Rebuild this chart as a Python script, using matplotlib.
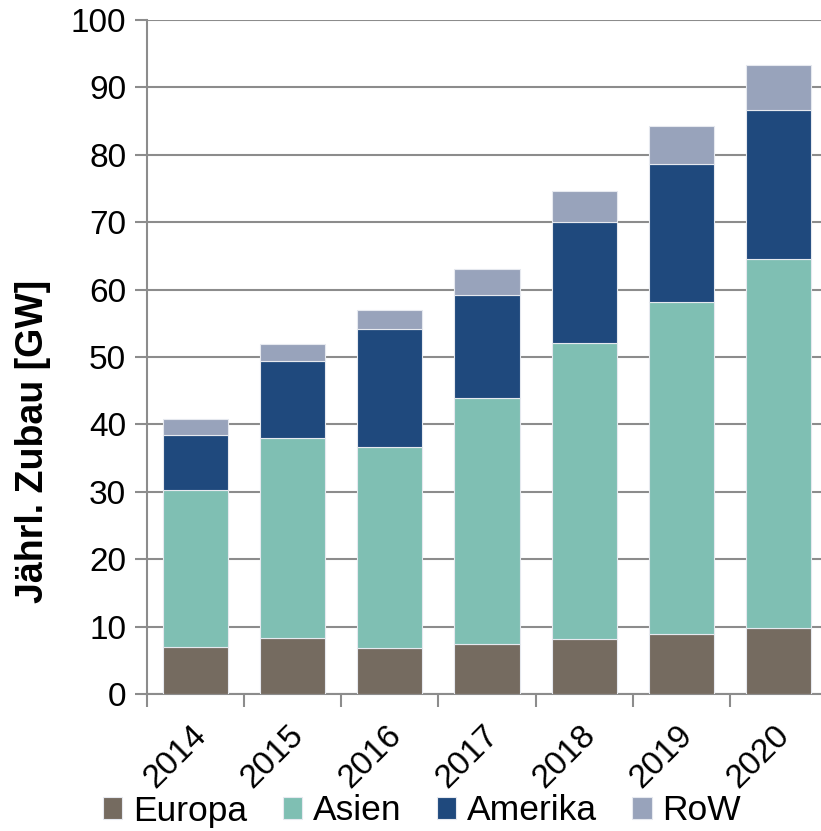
import matplotlib.pyplot as plt
import matplotlib.transforms as mtransforms
import numpy as np

plt.rcParams['font.family'] = ['Liberation Sans', 'DejaVu Sans']

# Daten
jahre = ['2014', '2015', '2016', '2017', '2018', '2019', '2020']
europa = [6.9, 8.3, 6.8, 7.4, 8.1, 8.9, 9.8]
asien = [23.3, 29.7, 29.9, 36.5, 44.0, 49.3, 54.7]
amerika = [8.3, 11.4, 17.4, 15.3, 18.0, 20.4, 22.1]
row = [2.3, 2.5, 2.9, 3.8, 4.6, 5.7, 6.7]

serien = ['Europa', 'Asien', 'Amerika', 'RoW']
farben = ['#756b60', '#7fbfb3', '#1f497d', '#98a3bb']
werte = [europa, asien, amerika, row]

fig = plt.figure(figsize=(8.21, 8.31), dpi=100)
ax = fig.add_axes([147 / 821, 1 - 694 / 831, 680 / 821, 674 / 831])

x = np.arange(len(jahre))
unten = np.zeros(len(jahre))
for name, farbe, w in zip(serien, farben, werte):
    ax.bar(x, w, width=0.67, bottom=unten, color=farbe, label=name,
           edgecolor='#e6e9ef', linewidth=0.8, zorder=3)
    unten += np.array(w)

# Achsen
ax.set_xlim(-0.5, len(jahre) - 0.5)
ax.set_ylim(0, 100)
ax.set_yticks(np.arange(0, 101, 10))
ax.tick_params(axis='y', labelsize=24, length=9, width=1.5, color='#8c8c8c', pad=6)

# Tickstriche zwischen den Kategorien, Beschriftung in der Mitte
ax.set_xticks(np.arange(-0.5, len(jahre), 1.0))
ax.set_xticklabels([])
ax.tick_params(axis='x', which='major', length=9, width=1.5, color='#8c8c8c')
ax.set_xticks(x, minor=True)
ax.set_xticklabels(jahre, minor=True, rotation=45, ha='right', va='top',
                   rotation_mode='anchor', fontsize=24)
ax.tick_params(axis='x', which='minor', length=0, pad=18.5)
versatz = mtransforms.ScaledTranslation(-0.045, 0, fig.dpi_scale_trans)
for lbl in ax.get_xticklabels(minor=True):
    lbl.set_transform(lbl.get_transform() + versatz)

ax.grid(axis='y', color='#8c8c8c', linewidth=1.5, zorder=0)
ax.set_axisbelow(True)
for s in ['top', 'right']:
    ax.spines[s].set_visible(False)
for s in ['left', 'bottom']:
    ax.spines[s].set_color('#8c8c8c')
    ax.spines[s].set_linewidth(1.5)

ax.set_ylabel('Jährl. Zubau [GW]', fontsize=27, fontweight='bold', labelpad=14, y=0.375)

fig.legend(loc='center', bbox_to_anchor=(422 / 821, 1 - 811 / 831), ncol=4, frameon=False,
           fontsize=25.5, handlelength=0.55, handleheight=0.55, handletextpad=0.3,
           columnspacing=1.0, borderaxespad=0)

plt.savefig('out.png', dpi=100)
